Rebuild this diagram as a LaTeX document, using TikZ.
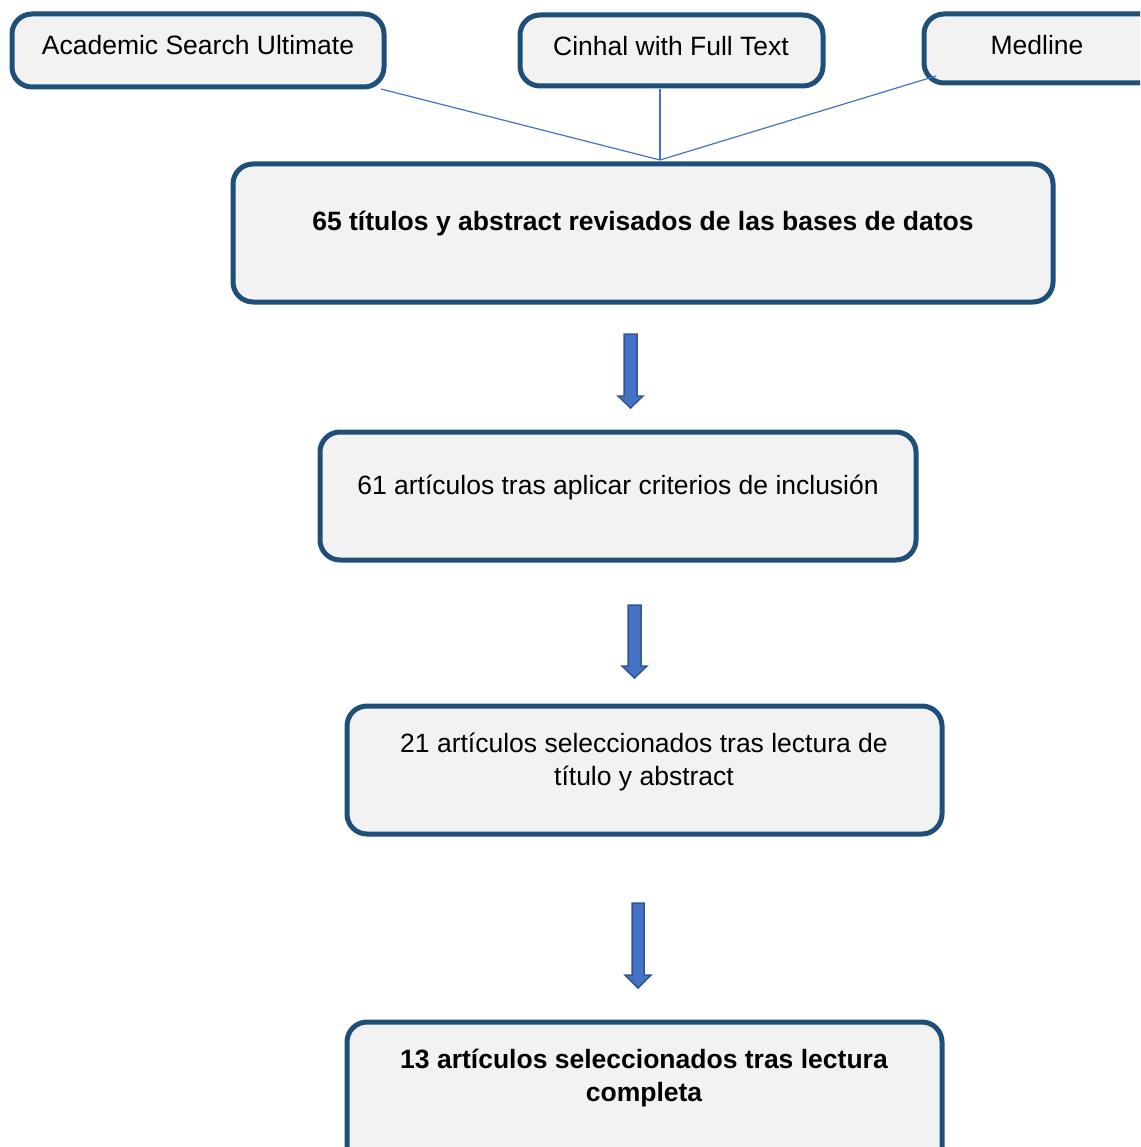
\documentclass[tikz,border=0pt]{standalone}
\usepackage{fontspec}
\setmainfont{Liberation Sans}
\definecolor{boxline}{HTML}{1F4E79}
\definecolor{boxfill}{HTML}{F2F2F2}
\definecolor{conn}{HTML}{4472C4}
\definecolor{arrline}{HTML}{2F5597}
\begin{document}
\begin{tikzpicture}[x=1pt,y=-1pt,
  box/.style={draw=boxline, fill=boxfill, line width=5pt, rounded corners=20pt, rectangle, inner sep=0pt},
  txt/.style={anchor=base, inner sep=0pt, font=\fontsize{26.5}{32}\selectfont},
  btxt/.style={txt, font=\fontsize{26.5}{32}\selectfont\bfseries},
  conline/.style={draw=conn, line width=1.2pt},
  blockarrow/.style={fill=conn, draw=arrline, line width=1.5pt, line join=miter}]
\useasboundingbox (0,0) rectangle (1140,1147);
\begin{scope}
\clip (0,0) rectangle (1140,1147);
% boxes
\node[box, minimum width=372pt, minimum height=73pt] (b1) at (198,50.5) {};
\node[box, minimum width=303pt, minimum height=71pt] (b2) at (671.5,50.5) {};
\node[box, minimum width=236pt, minimum height=69pt] (b3) at (1042,48.5) {};
\node[box, minimum width=820pt, minimum height=138pt] (b4) at (643,233) {};
\node[box, minimum width=596pt, minimum height=128pt] (b5) at (618,496) {};
\node[box, minimum width=595pt, minimum height=128pt] (b6) at (644.5,770) {};
\node[box, minimum width=595pt, minimum height=158pt] (b7) at (644.5,1101) {};
% texts
\node[txt] (t1) at (198,54.5) {Academic Search Ultimate};
\node[txt] (t2) at (671,55.5) {Cinhal with Full Text};
\node[txt] (t3) at (1037,54.5) {Medline};
\node[btxt] (t4) at (643,231) {65 títulos y abstract revisados de las bases de datos};
\node[txt] (t5) at (618,494) {61 artículos tras aplicar criterios de inclusión};
\node[txt] (t6a) at (644,752) {21 artículos seleccionados tras lectura de};
\node[txt] (t6b) at (644,785) {título y abstract};
\node[btxt] (t7a) at (644,1068) {13 artículos seleccionados tras lectura};
\node[btxt] (t7b) at (644,1101) {completa};
% connectors
\coordinate (j) at (660,160);
\coordinate (s1) at (381,89);
\coordinate (s2) at (660,89);
\coordinate (s3) at (936,76);
\draw[conline] (s1) -- (j);
\draw[conline] (s2) -- (j);
\draw[conline] (s3) -- (j);
% block arrows
\draw[blockarrow] (624,334) -- (637,334) -- (637,396) -- (643,396) -- (630.5,408) -- (618,396) -- (624,396) -- cycle;
\draw[blockarrow] (628,605) -- (641,605) -- (641,666) -- (647,666) -- (634.5,678) -- (622,666) -- (628,666) -- cycle;
\draw[blockarrow] (632,903) -- (644,903) -- (644,975) -- (651,975) -- (638,988) -- (625,975) -- (632,975) -- cycle;
\end{scope}
\end{tikzpicture}
\end{document}
